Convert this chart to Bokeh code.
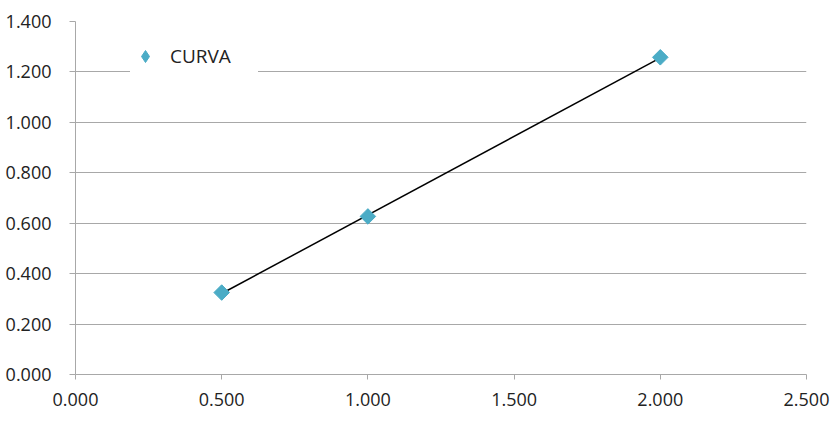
import numpy as np
from bokeh.plotting import figure
from bokeh.models import FixedTicker, NumeralTickFormatter, Legend, LegendItem, Range1d
from bokeh.embed import file_html
from bokeh.resources import INLINE

# data
x_vals = [0.5, 1.0, 2.0]
y_vals = [0.325, 0.627, 1.258]
x_ticks = [0.0, 0.5, 1.0, 1.5, 2.0, 2.5]
y_ticks = [0.0, 0.2, 0.4, 0.6, 0.8, 1.0, 1.2, 1.4]
series_name = "CURVA"

# linear trendline
slope, intercept = np.polyfit(x_vals, y_vals, 1)
tx = [min(x_vals), max(x_vals)]
ty = [slope * v + intercept for v in tx]

p = figure(width=830, height=448, output_backend="svg", toolbar_location=None,
           x_range=Range1d(0, 2.5), y_range=Range1d(0, 1.4),
           min_border_left=75, min_border_right=24, min_border_top=21, min_border_bottom=74)
p.outline_line_color = None
p.background_fill_color = "white"
p.border_fill_color = "white"

FONT = "Open Sans"
grid_col = "#a8a8a8"
mark_col = "#4bacc6"

p.xaxis.ticker = FixedTicker(ticks=x_ticks)
p.yaxis.ticker = FixedTicker(ticks=y_ticks)
p.xaxis.formatter = NumeralTickFormatter(format="0.000")
p.yaxis.formatter = NumeralTickFormatter(format="0.000")
for ax in (p.xaxis, p.yaxis):
    ax.axis_line_color = grid_col
    ax.major_tick_line_color = grid_col
    ax.minor_tick_line_color = None
    ax.major_tick_in = 0
    ax.major_label_text_font = FONT
    ax.major_label_text_font_size = "18px"
    ax.major_label_text_color = "#222222"
p.yaxis.major_tick_out = 6
p.xaxis.major_tick_out = 5
p.yaxis.major_label_standoff = 18
p.xaxis.major_label_standoff = 13

p.xgrid.grid_line_color = None
p.ygrid.grid_line_color = grid_col
p.ygrid.grid_line_width = 1

p.line(tx, ty, line_color="black", line_width=1.5)
# diamond drawn under the rotated square (used for the legend symbol)
r_leg = p.scatter(x_vals, y_vals, marker="diamond", size=14,
                  fill_color=mark_col, line_color=mark_col)
r = p.scatter(x_vals, y_vals, marker="square", angle=np.pi / 4, size=11,
              fill_color=mark_col, line_color=mark_col)

legend = Legend(items=[LegendItem(label=series_name, renderers=[r_leg])],
                location=(55, 300), orientation="vertical",
                glyph_width=30, glyph_height=36, label_standoff=10,
                padding=(8, 0, 8, 43), margin=0, spacing=0, label_width=88,
                label_text_font=FONT, label_text_font_size="19px",
                label_text_color="#222222",
                border_line_color=None, background_fill_color="white",
                background_fill_alpha=1.0)
p.add_layout(legend)

open("out.html", "w").write(file_html(p, INLINE))
